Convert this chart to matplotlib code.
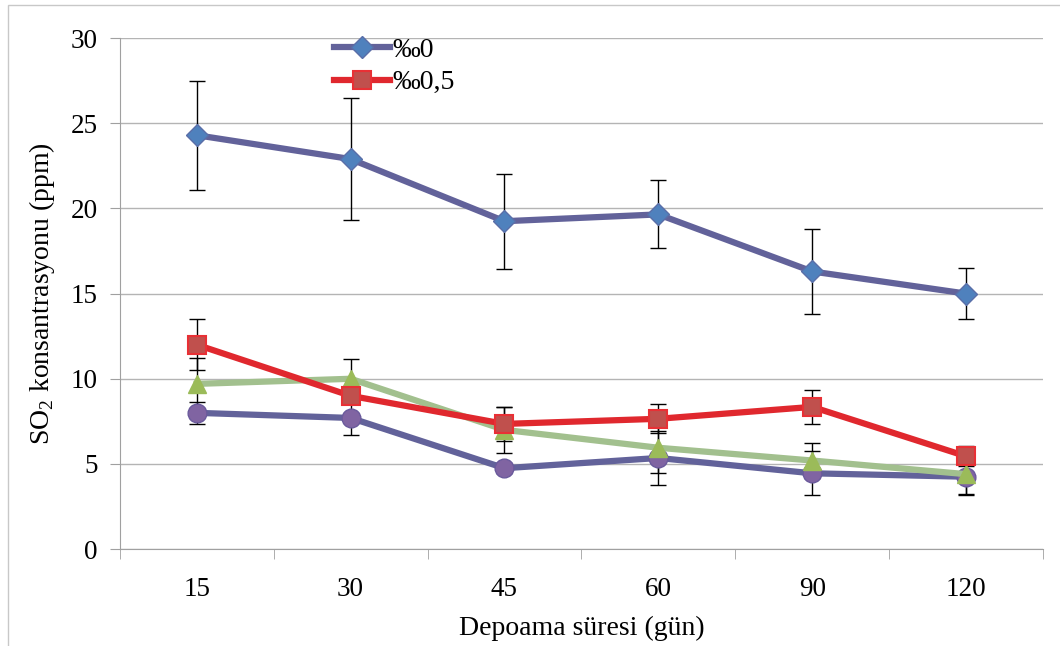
import matplotlib
matplotlib.use("Agg")
import matplotlib.pyplot as plt
from matplotlib.patches import Rectangle

plt.rcParams['font.family'] = ['Liberation Serif', 'DejaVu Serif']
plt.rcParams['mathtext.fontset'] = 'custom'
plt.rcParams['mathtext.rm'] = 'Liberation Serif'

days = ['15', '30', '45', '60', '90', '120']

s0 = [24.3, 22.9, 19.25, 19.65, 16.3, 15.0]
s0_err = [3.2, 3.6, 2.8, 2.0, 2.5, 1.5]

s05 = [12.0, 9.0, 7.35, 7.65, 8.35, 5.45]
s05_err = [1.5, 0.5, 1.0, 0.85, 1.0, 0.6]

s_green = [9.7, 10.0, 7.0, 5.95, 5.2, 4.4]
s_green_err = [1.5, 1.15, 1.35, 1.5, 1.0, 1.2]

s_purple = [8.0, 7.7, 4.75, 5.35, 4.45, 4.25]
s_purple_err = [0.65, 1.0, 0.3, 1.6, 1.3, 1.0]

x = list(range(len(days)))

fig = plt.figure(figsize=(10.6, 6.46), dpi=100)
ax = fig.add_axes([0.113, 0.150, 0.871, 0.791])

eb = dict(ecolor='black', elinewidth=1, capsize=6, capthick=1, zorder=2)
ax.errorbar(x, s_purple, yerr=s_purple_err, fmt='none', **eb)
ax.errorbar(x, s_green, yerr=s_green_err, fmt='none', **eb)
ax.errorbar(x, s05, yerr=s05_err, fmt='none', **eb)
ax.errorbar(x, s0, yerr=s0_err, fmt='none', **eb)

ax.plot(x, s_purple, color='#62629a', lw=4.5, marker='o', ms=13.5,
        mfc='#8064a2', mec='#6a5a9c', mew=1, zorder=3)
ax.plot(x, s_green, color='#a2c08e', lw=4.5, marker='^', ms=12.5,
        mfc='#9bbb59', mec='#9bbb59', zorder=3)
ax.plot(x, s05, color='#e0282e', lw=4.5, marker='s', ms=12.5,
        mfc='#c0504d', mec='#e83035', mew=1.5, zorder=4, label='‰0,5')
ax.plot(x, s0, color='#62629a', lw=4.5, marker='D', ms=11,
        mfc='#4f81bd', mec='#5a6ea8', mew=1, zorder=4, label='‰0')

ax.set_xlim(-0.5, len(days) - 0.5)
ax.set_ylim(0, 30)
ax.set_yticks(range(0, 31, 5))
ax.set_xticks(x)
ax.set_xticklabels(days)
ax.set_xticks([i - 0.5 for i in range(len(days) + 1)], minor=True)
ax.tick_params(axis='x', which='major', length=0, pad=20, labelsize=19.5)
ax.tick_params(axis='x', which='minor', length=7, color='#a0a0a0', direction='out')
ax.tick_params(axis='y', length=7, color='#a0a0a0', labelsize=19.5, pad=9)

ax.grid(axis='y', color='#b4b4b4', lw=1)
ax.set_axisbelow(True)
for side in ['top', 'right']:
    ax.spines[side].set_visible(False)
for side in ['left', 'bottom']:
    ax.spines[side].set_color('#a0a0a0')

ax.set_xlabel('Depoama süresi (gün)', fontsize=20, labelpad=10)
ax.set_ylabel('SO$_2$ konsantrasyonu (ppm)', fontsize=20, labelpad=10)

handles, labels = ax.get_legend_handles_labels()
ax.legend(handles[::-1], labels[::-1], loc='upper left', bbox_to_anchor=(0.205, 1.05),
          frameon=False, fontsize=20, handlelength=2.0, handletextpad=0.1,
          labelspacing=0.25)

fig.patches.append(Rectangle((0.008, -0.01), 1.0, 1.002, transform=fig.transFigure,
                             fill=False, edgecolor='#c8c8c8', lw=1))

fig.savefig('out.png', dpi=100)
